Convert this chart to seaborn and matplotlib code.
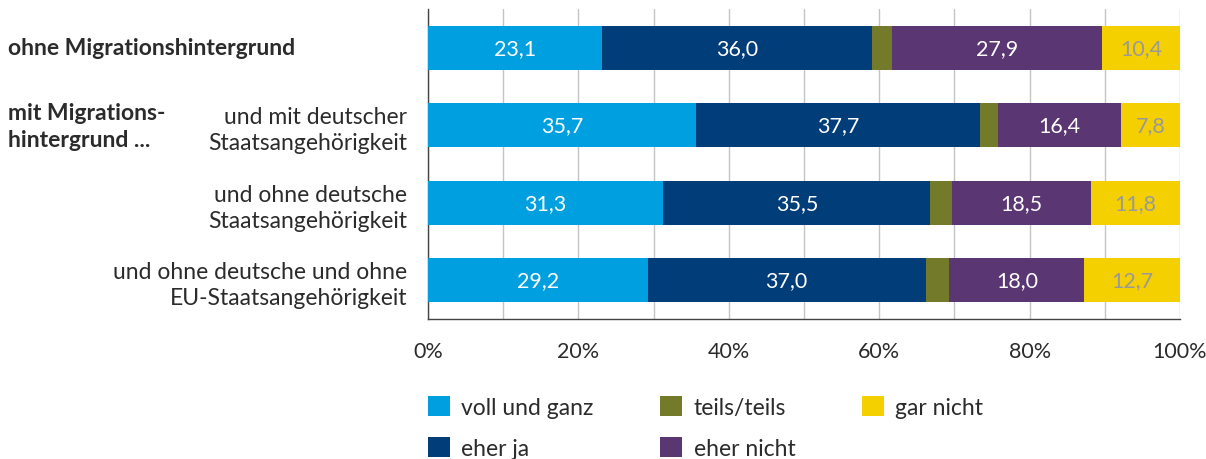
import numpy as np
import pandas as pd
import matplotlib
matplotlib.use("Agg")
import matplotlib.pyplot as plt
import matplotlib.ticker as mticker
import seaborn as sns

# data (percent)
groups = [
    "ohne Migrationshintergrund",
    "und mit deutscher\nStaatsangehörigkeit",
    "und ohne deutsche\nStaatsangehörigkeit",
    "und ohne deutsche und ohne\nEU-Staatsangehörigkeit",
]
answers = ["voll und ganz", "eher ja", "teils/teils", "eher nicht", "gar nicht"]
voll_und_ganz = [23.1, 35.7, 31.3, 29.2]
eher_ja = [36.0, 37.7, 35.5, 37.0]
teils_teils = [2.6, 2.4, 2.9, 3.1]
eher_nicht = [27.9, 16.4, 18.5, 18.0]
gar_nicht = [10.4, 7.8, 11.8, 12.7]

colors = ["#009fdf", "#003d79", "#737b2a", "#5a3773", "#f5d000"]
label_colors = ["white", "white", None, "white", "#999999"]
text_color = "#2b2b2b"

df = pd.DataFrame(
    {"group": groups, "voll und ganz": voll_und_ganz, "eher ja": eher_ja,
     "teils/teils": teils_teils, "eher nicht": eher_nicht, "gar nicht": gar_nicht}
)
cum = df[answers].cumsum(axis=1)

sns.set_style("white")
plt.rcParams["font.family"] = ["Lato", "DejaVu Sans"]
fs_num = 15.5   # numbers: bar labels, tick labels
fs_txt = 16.5   # words: row labels, legend

fig = plt.figure(figsize=(12.06, 4.6), dpi=100)
ax = fig.add_axes([428 / 1206, 1 - 320 / 460, (1180 - 428) / 1206, 310 / 460])

# stacked bars: draw the cumulative totals from the right end backwards
for ans, col in reversed(list(zip(answers, colors))):
    sns.barplot(x=cum[ans], y=df["group"], color=col, orient="h", linewidth=0,
                width=0.57, ax=ax, label=ans, zorder=3, saturation=1)

# value labels in the middle of each segment
for i, g in enumerate(groups):
    for ans, lc in zip(answers, label_colors):
        if lc is None:
            continue
        v = df.loc[i, ans]
        mid = cum.loc[i, ans] - v / 2
        ax.text(mid, i, f"{v:.1f}".replace(".", ","), ha="center", va="center",
                color=lc, fontsize=fs_num, zorder=4)

ax.set_xlim(0, 100)
ax.set_ylim(3.5, -0.5)
ax.set_xlabel("")
ax.set_ylabel("")

ax.xaxis.set_major_locator(mticker.MultipleLocator(20))
ax.xaxis.set_minor_locator(mticker.MultipleLocator(10))
ax.xaxis.set_major_formatter(mticker.FuncFormatter(lambda v, p: f"{v:.0f}%"))
ax.grid(axis="x", which="both", color="#c4c4c4", lw=1, zorder=0)
ax.set_axisbelow(True)
ax.tick_params(axis="x", which="major", direction="out", length=8, width=1,
               color="#444444", labelsize=fs_num, labelcolor=text_color, pad=8)
ax.tick_params(axis="x", which="minor", length=0)

ax.set_yticks(range(len(groups)))
ax.set_yticklabels([""] + groups[1:], fontsize=fs_txt, color=text_color, linespacing=1.3)
ax.yaxis.set_minor_locator(mticker.FixedLocator([-0.5, 0.5, 1.5, 2.5]))
ax.tick_params(axis="y", which="major", length=0, pad=15)
ax.tick_params(axis="y", which="minor", direction="out", length=8, width=1, color="#444444")

for s in ["top", "right"]:
    ax.spines[s].set_visible(False)
for s in ["left", "bottom"]:
    ax.spines[s].set_color("#444444")
    ax.spines[s].set_linewidth(1)

# bold group labels at the far left
fig.text(8 / 1206, 1 - 49 / 460, "ohne Migrationshintergrund", fontsize=fs_txt,
         fontweight="bold", color=text_color, ha="left", va="center")
fig.text(8 / 1206, 1 - 127 / 460, "mit Migrations-\nhintergrund ...", fontsize=fs_txt,
         fontweight="bold", color=text_color, ha="left", va="center", linespacing=1.3)

handles, labels = ax.get_legend_handles_labels()
order = [labels.index(a) for a in answers]
if ax.legend_:
    ax.legend_.remove()
fig.legend([handles[k] for k in order], [labels[k] for k in order], ncol=3,
           loc="upper left", bbox_to_anchor=(428 / 1206, 1 - 397 / 460),
           frameon=False, fontsize=fs_txt, handlelength=0.96, handleheight=0.96,
           handletextpad=0.5, columnspacing=2.9, labelspacing=0.85,
           borderpad=0, borderaxespad=0, labelcolor=text_color)

fig.savefig("out.png", dpi=100)
